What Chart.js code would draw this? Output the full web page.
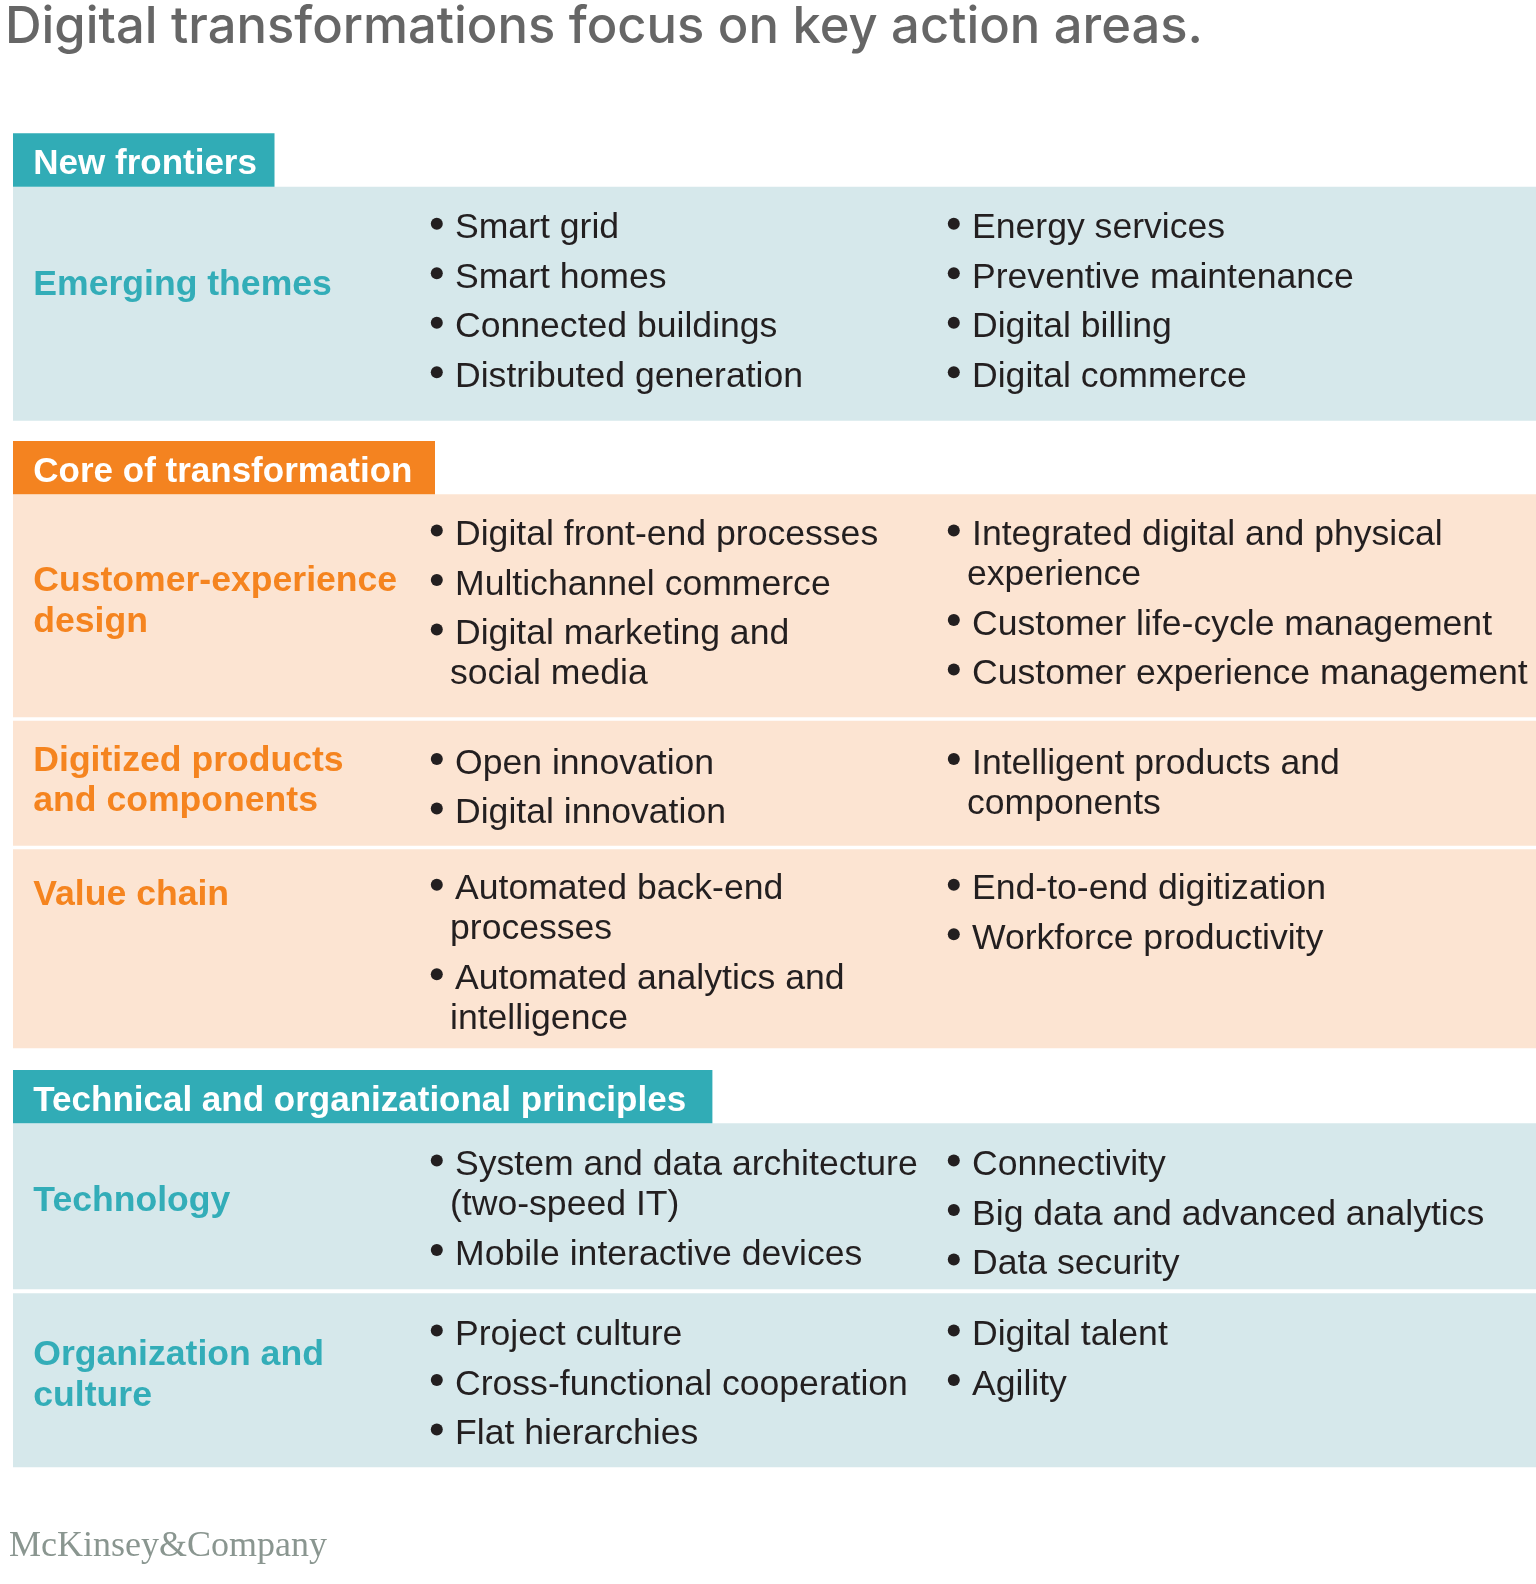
<!DOCTYPE html>
<html>
<head>
<meta charset="utf-8">
<script src="https://cdn.jsdelivr.net/npm/chart.js@4.4.0/dist/chart.umd.min.js"></script>
<style>
  html, body { margin: 0; padding: 0; background: #ffffff; }
  #wrap { width: 1536px; height: 1584px; position: relative; }
</style>
</head>
<body>
<div id="wrap"><canvas id="chart"></canvas></div>
<script>
// ---------------- DATA (text content) ----------------
const chartTitle = "Digital transformations focus on key action areas.";
const sourceLogo = "McKinsey&Company";

const sectionTitles = ["New frontiers", "Core of transformation", "Technical and organizational principles"];
const sectionThemes = ["teal", "orange", "teal"];

const rowLabels = [
  ["Emerging themes"],
  ["Customer-experience", "design"],
  ["Digitized products", "and components"],
  ["Value chain"],
  ["Technology"],
  ["Organization and", "culture"]
];
const rowSection = [0, 1, 1, 1, 2, 2];

const leftItems = [
  [["Smart grid"], ["Smart homes"], ["Connected buildings"], ["Distributed generation"]],
  [["Digital front-end processes"], ["Multichannel commerce"], ["Digital marketing and", "social media"]],
  [["Open innovation"], ["Digital innovation"]],
  [["Automated back-end", "processes"], ["Automated analytics and", "intelligence"]],
  [["System and data architecture", "(two-speed IT)"], ["Mobile interactive devices"]],
  [["Project culture"], ["Cross-functional cooperation"], ["Flat hierarchies"]]
];

const rightItems = [
  [["Energy services"], ["Preventive maintenance"], ["Digital billing"], ["Digital commerce"]],
  [["Integrated digital and physical", "experience"], ["Customer life-cycle management"], ["Customer experience management"]],
  [["Intelligent products and", "components"]],
  [["End-to-end digitization"], ["Workforce productivity"]],
  [["Connectivity"], ["Big data and advanced analytics"], ["Data security"]],
  [["Digital talent"], ["Agility"]]
];

// ---------------- LAYOUT (positions, in page units) ----------------
const headerBoxes = [
  { top: 133.3, bottom: 186.7, right: 274.5 },
  { top: 441.0, bottom: 494.3, right: 435.0 },
  { top: 1070.0, bottom: 1123.3, right: 712.4 }
];
const rowBands = [
  { top: 186.7, bottom: 420.7, itemBase: 238.3, labelBase: 295.0 },
  { top: 494.3, bottom: 717.3, itemBase: 545.0, labelBase: 591.0 },
  { top: 720.7, bottom: 845.7, itemBase: 773.5, labelBase: 770.7 },
  { top: 849.3, bottom: 1048.3, itemBase: 899.3, labelBase: 905.0 },
  { top: 1123.3, bottom: 1289.3, itemBase: 1175.0, labelBase: 1211.0 },
  { top: 1293.3, bottom: 1467.3, itemBase: 1345.0, labelBase: 1365.0 }
];
const L = {
  left: 13, right: 1536,
  labelX: 33.3,
  col1Text: 455, col1Bullet: 436.8, col1Wrap: 450,
  col2Text: 972, col2Bullet: 953.8, col2Wrap: 967,
  itemStep: 49.5, wrapStep: 40, labelStep: 40.5,
  bulletRise: 14.6, bulletR: 6,
  headerTextDrop: 12.7
};

// ---------------- STYLE ----------------
const THEME = {
  teal:   { header: "#31acb6", band: "#d6e8eb", label: "#33adb8" },
  orange: { header: "#f48320", band: "#fce4d2", label: "#f5841f" }
};
const FONT = "'Liberation Sans', Arial, Helvetica, sans-serif";
const BODY_COLOR = "#231f20";

// ---------------- build bar datasets (bands & header boxes) ----------------
const datasets = [];
headerBoxes.forEach((b, i) => {
  datasets.push({
    label: sectionTitles[i],
    data: [{ x: [L.left, b.right], y: (b.top + b.bottom) / 2 }],
    barThickness: b.bottom - b.top,
    backgroundColor: THEME[sectionThemes[i]].header
  });
});
rowBands.forEach((b, r) => {
  datasets.push({
    label: rowLabels[r].join(" "),
    data: [{ x: [L.left, L.right], y: (b.top + b.bottom) / 2 }],
    barThickness: b.bottom - b.top,
    backgroundColor: THEME[sectionThemes[rowSection[r]]].band
  });
});

const textPlugin = {
  id: "tableText",
  afterDatasetsDraw(chart) {
    const ctx = chart.ctx;
    const xs = chart.scales.x, ys = chart.scales.y;
    const X = v => xs.getPixelForValue(v);
    const Y = v => ys.getPixelForValue(v);
    ctx.save();
    ctx.textAlign = "left";
    ctx.textBaseline = "alphabetic";

    // Title
    ctx.fillStyle = "#666666";
    ctx.font = "500 50.7px Inter, " + FONT;
    ctx.fillText(chartTitle, X(5), Y(43.3));

    // Section headers
    ctx.font = "bold 35px " + FONT;
    ctx.fillStyle = "#ffffff";
    headerBoxes.forEach((b, i) => {
      ctx.fillText(sectionTitles[i], X(L.labelX), Y(b.bottom - L.headerTextDrop));
    });

    // Rows
    rowBands.forEach((b, r) => {
      const th = THEME[sectionThemes[rowSection[r]]];
      ctx.font = "bold 35.6px " + FONT;
      ctx.fillStyle = th.label;
      rowLabels[r].forEach((line, k) => {
        ctx.fillText(line, X(L.labelX), Y(b.labelBase + k * L.labelStep));
      });

      const drawCol = (items, textX, bulletX, wrapX) => {
        let base = b.itemBase;
        ctx.font = "35.6px " + FONT;
        items.forEach(item => {
          ctx.fillStyle = BODY_COLOR;
          ctx.beginPath();
          ctx.arc(X(bulletX), Y(base - L.bulletRise), L.bulletR, 0, Math.PI * 2);
          ctx.fill();
          item.forEach((line, k) => {
            ctx.fillText(line, X(k === 0 ? textX : wrapX), Y(base + k * L.wrapStep));
          });
          base += (item.length - 1) * L.wrapStep + L.itemStep;
        });
      };
      drawCol(leftItems[r], L.col1Text, L.col1Bullet, L.col1Wrap);
      drawCol(rightItems[r], L.col2Text, L.col2Bullet, L.col2Wrap);
    });

    // Logo
    ctx.fillStyle = "#8a9690";
    ctx.font = "36px 'Liberation Serif', 'Times New Roman', serif";
    ctx.fillText(sourceLogo, X(9), Y(1556));
    ctx.restore();
  }
};

new Chart(document.getElementById("chart"), {
  type: "bar",
  data: { datasets },
  options: {
    indexAxis: "y",
    responsive: true,
    maintainAspectRatio: false,
    animation: false,
    events: [],
    layout: { padding: 0 },
    datasets: { bar: { grouped: false, borderWidth: 0, inflateAmount: 0 } },
    scales: {
      x: { type: "linear", min: 0, max: 1536, offset: false, display: false },
      y: { type: "linear", min: 0, max: 1584, reverse: true, offset: false, display: false }
    },
    plugins: { legend: { display: false }, tooltip: { enabled: false }, title: { display: false } }
  },
  plugins: [textPlugin]
});
</script>
</body>
</html>
